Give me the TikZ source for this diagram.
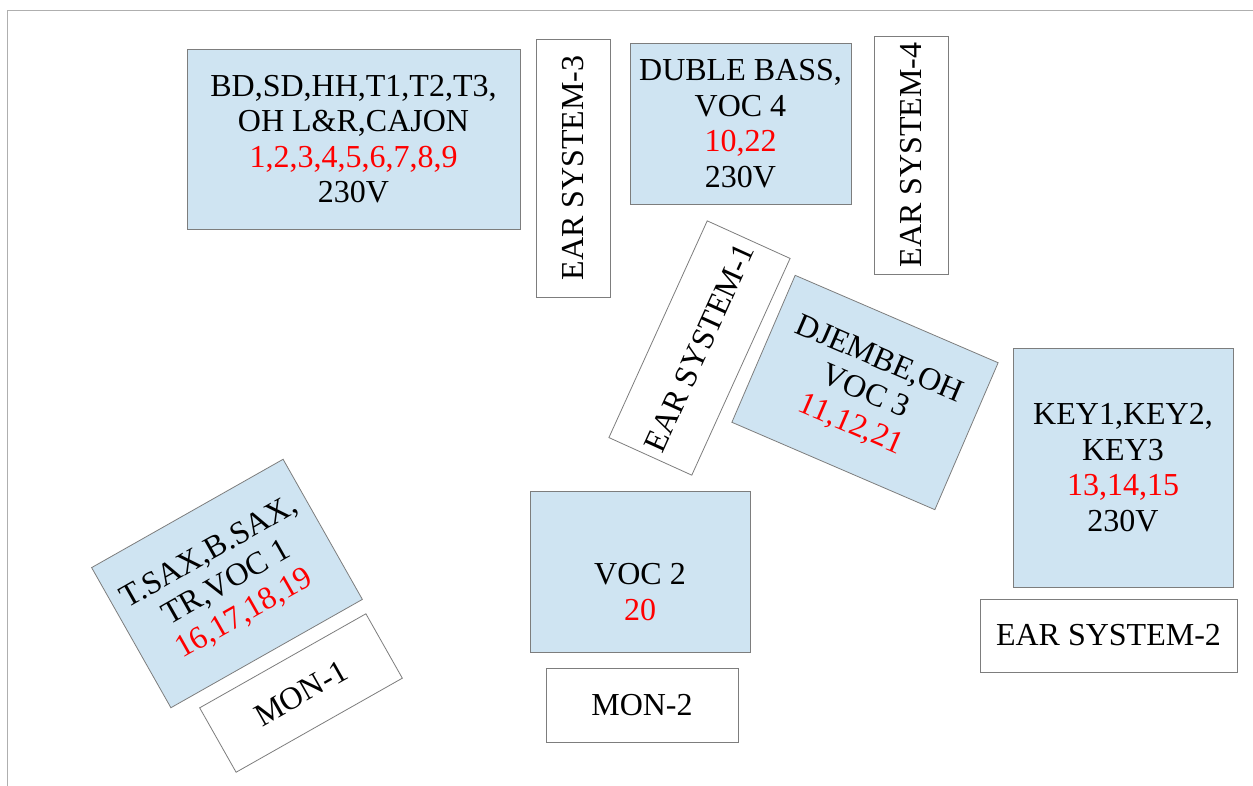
\documentclass[tikz,border=0pt]{standalone}
\usepackage{fontspec}
\setmainfont{Liberation Serif}
\definecolor{stagefill}{RGB}{207,228,242}
\definecolor{stageline}{RGB}{125,125,125}
\definecolor{pageline}{RGB}{175,175,175}
\tikzset{%
  every box/.style={
    draw=stageline,
    line width=0.8pt,
    inner sep=0pt,
    align=center,
    font=\fontsize{32}{35.5}\selectfont
  },
  inst box/.style={every box, fill=stagefill},
  ear box/.style={every box, fill=white},
}
\newcommand{\chn}[1]{\textcolor{red}{#1}}

\begin{document}
\begin{tikzpicture}[x=1pt, y=-1pt]
\useasboundingbox (0,0) rectangle (1253,785);
\draw[pageline, line width=1pt] (7.5,800) -- (7.5,10.5) -- (1270,10.5);
    \node[inst box, minimum width=333pt, minimum height=180pt] (drums) at (353.5,139)
        {BD,SD,HH,T1,T2,T3,\\OH L\&R,CAJON\\\chn{1,2,3,4,5,6,7,8,9}\\230V};
    \node[ear box, minimum width=258pt, minimum height=74pt, rotate=90] (ear3) at (573,168) {EAR SYSTEM-3};
    \node[inst box, minimum width=221pt, minimum height=161pt] (bass) at (740.5,123.5)
        {DUBLE BASS,\\VOC 4\\\chn{10,22}\\230V};
    \node[ear box, minimum width=238pt, minimum height=74pt, rotate=90] (ear4) at (911,155) {EAR SYSTEM-4};
    \node[ear box, minimum width=238pt, minimum height=91pt, rotate=65.6] (ear1) at (699.5,348) {EAR SYSTEM-1};
    \node[inst box, minimum width=221pt, minimum height=160pt, rotate=-23.3] (djembe) at (865,392.5)
        {DJEMBE,OH\\VOC 3\\\chn{11,12,21}};
    \node[inst box, minimum width=220pt, minimum height=239pt] (keys) at (1123,467.5)
        {KEY1,KEY2,\\KEY3\\\chn{13,14,15}\\230V};
    \node[ear box, minimum width=257pt, minimum height=73pt] (ear2) at (1108.5,635.5) {EAR SYSTEM-2};
    \node[inst box, minimum width=220pt, minimum height=161pt] (voc2) at (640,571.5)
        {\rule{0pt}{27pt}\\VOC 2\\\chn{20}};
    \node[ear box, minimum width=192pt, minimum height=74pt] (mon2) at (642,705) {MON-2};
    \node[inst box, minimum width=220pt, minimum height=161pt, rotate=29.5] (sax) at (227,583.5)
        {T.SAX,B.SAX,\\TR,VOC 1\\\chn{16,17,18,19}};
    \node[ear box, minimum width=191pt, minimum height=74pt, rotate=29.5] (mon1) at (301,693) {MON-1};
\end{tikzpicture}
\end{document}
